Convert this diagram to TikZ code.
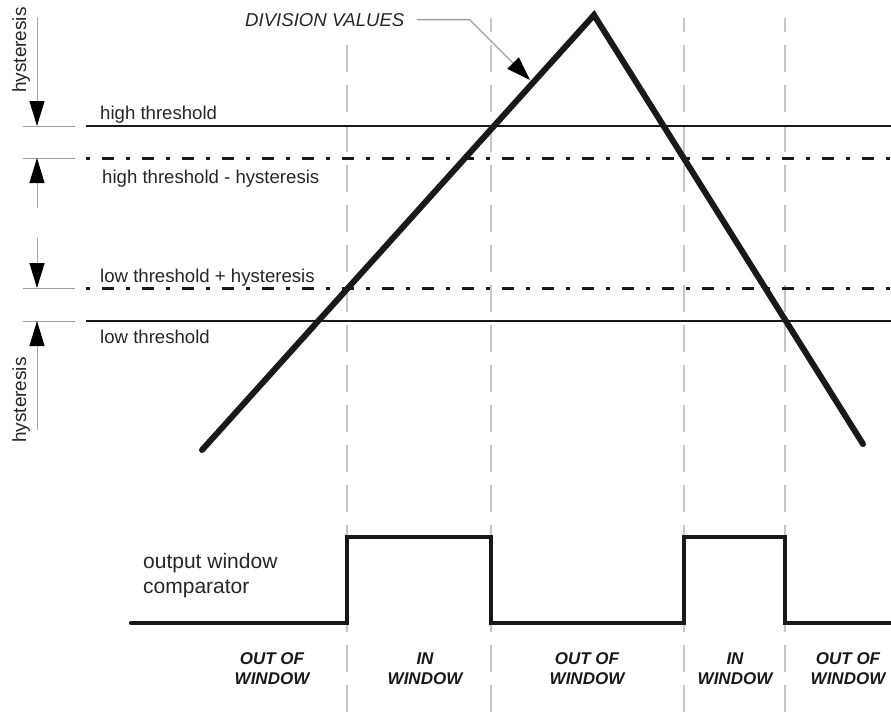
\documentclass[tikz,border=0pt]{standalone}
\usepackage{fontspec}
\setmainfont{Liberation Sans}
\usetikzlibrary{arrows.meta}

\begin{document}
\begin{tikzpicture}[
  x=1pt, y=-1pt,
  ink/.style={draw=black!90},
  level/.style={ink, line width=2.6pt},
  hystlevel/.style={ink, line width=3pt, dash pattern=on 4pt off 12pt on 12pt off 12pt},
  tick/.style={draw=gray!75, line width=0.9pt},
  dim/.style={draw=gray!70, line width=1pt, -{Triangle[length=25pt,width=15pt,color=black]}},
  leader/.style={draw=gray!75, line width=1.3pt, -{Triangle[length=24pt,width=16pt,color=black]}},
  divider/.style={draw=gray!45, line width=1.2pt, dash pattern=on 27pt off 13pt},
  ramp/.style={ink, line width=6pt, line cap=round, line join=miter},
  pulse/.style={ink, line width=4.2pt, line cap=round, line join=miter},
  lbl/.style={inner sep=0pt, text=black!85, font=\fontsize{18.6}{22}\selectfont},
  zone/.style={inner sep=0pt, align=center, text=black!90,
               font=\fontsize{17}{20}\selectfont\bfseries\itshape}
]
\useasboundingbox (0,0) rectangle (891,716);

% Window boundaries
\draw[divider] (347,45) -- (347,716);
\foreach \x in {491,684,785}
  \draw[divider, dash phase=13pt] (\x,18) -- (\x,716);

% Thresholds
\draw[level] (86,126) -- (891,126);
\draw[hystlevel] (86,158) -- (891,158);
\draw[hystlevel] (86,288) -- (891,288);
\draw[level] (86,321) -- (891,321);
\foreach \y in {126,158,288,321}
  \draw[tick] (23,\y) -- (75,\y);

% Hysteresis dimension arrows
\coordinate (h1a) at (37,17);  \coordinate (h1b) at (37,126);
\coordinate (h2a) at (37,208); \coordinate (h2b) at (37,158);
\coordinate (h3a) at (37,238); \coordinate (h3b) at (37,288);
\coordinate (h4a) at (37,430); \coordinate (h4b) at (37,321);
\draw[dim] (h1a) -- (h1b);
\draw[dim] (h2a) -- (h2b);
\draw[dim] (h3a) -- (h3b);
\draw[dim] (h4a) -- (h4b);
\node[lbl, rotate=90, anchor=base west, font=\fontsize{19}{22}\selectfont] (hysttop) at (26,93) {hysteresis};
\node[lbl, rotate=90, anchor=base west, font=\fontsize{19}{22}\selectfont] (hystbot) at (26,443) {hysteresis};

% Threshold labels
\node[lbl, anchor=base west] (hi) at (100,119) {high threshold};
\node[lbl, anchor=base west] (himinus) at (102,183) {high threshold - hysteresis};
\node[lbl, anchor=base west] (loplus) at (100,282) {low threshold + hysteresis};
\node[lbl, anchor=base west] (lo) at (100,343) {low threshold};

% Division values
\coordinate (rampA) at (202,450);
\coordinate (rampB) at (594,15);
\coordinate (rampC) at (863,444);
\draw[ramp] (rampA) -- (rampB) -- (rampC);
\node[lbl, anchor=base west, font=\fontsize{18.6}{22}\selectfont\itshape] (div) at (245,26) {DIVISION VALUES};
\coordinate (divtip) at (530,80);
\draw[leader] ([xshift=12pt]div.east) -- ++(53,0) -- (divtip);

% Comparator output
\draw[pulse] (131,623) -- (347,623) -- (347,537) -- (491,537) -- (491,623)
  -- (684,623) -- (684,537) -- (785,537) -- (785,623) -- (891,623);
\node[lbl, anchor=north west, align=left, font=\fontsize{21}{25}\selectfont] (outlbl) at (143,553) {output window\\comparator};

% Window states
\node[zone] (z1) at (272,669) {OUT OF\\WINDOW};
\node[zone] (z2) at (425,669) {IN\\WINDOW};
\node[zone] (z3) at (587,669) {OUT OF\\WINDOW};
\node[zone] (z4) at (735,669) {IN\\WINDOW};
\node[zone] (z5) at (848,669) {OUT OF\\WINDOW};

\end{tikzpicture}
\end{document}
